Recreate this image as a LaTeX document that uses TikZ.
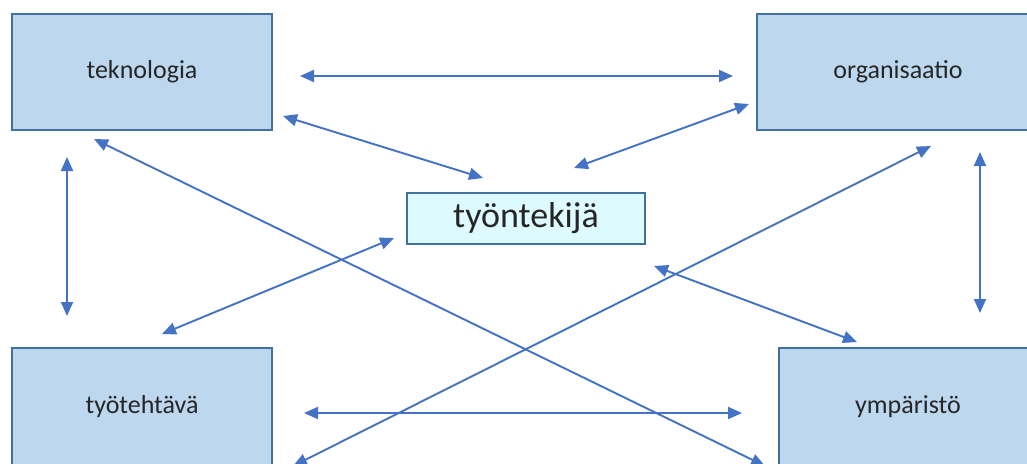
\documentclass[tikz,border=0pt]{standalone}
\usepackage{fontspec}
\setmainfont{Carlito}
\usetikzlibrary{arrows.meta}
\definecolor{boxfill}{HTML}{BDD7EE}
\definecolor{boxdraw}{HTML}{41719C}
\definecolor{centerfill}{HTML}{DDFAFF}
\definecolor{arrowc}{HTML}{4472C4}
\definecolor{txt}{HTML}{262626}
\tikzset{
  mainbox/.style={draw=boxdraw, fill=boxfill, line width=1.6pt, text=txt, font=\fontsize{26}{28}\selectfont},
  centerbox/.style={draw=boxdraw, fill=centerfill, line width=1.3pt, text=txt, font=\fontsize{36}{38}\selectfont},
  link/.style={draw=arrowc, line width=1.9pt, {Triangle[length=14pt,width=12pt]}-{Triangle[length=14pt,width=12pt]}}
}
\begin{document}
\begin{tikzpicture}[x=1pt,y=-1pt]
\useasboundingbox (0,0) rectangle (1027,463);
\fill[white] (0,0) rectangle (1027,463);
\clip (0,0) rectangle (1027,463);
% boxes
\node[mainbox, minimum width=260pt, minimum height=116pt, inner sep=0pt] (tek) at (142,72) {teknologia};
\node[mainbox, minimum width=282pt, minimum height=116pt, inner sep=0pt] (org) at (898,72) {organisaatio};
\node[mainbox, minimum width=260pt, minimum height=118pt, inner sep=0pt] (tyt) at (142,407) {työtehtävä};
\node[mainbox, minimum width=258pt, minimum height=118pt, inner sep=0pt] (ymp) at (908,407) {ympäristö};
\node[centerbox, minimum width=238pt, minimum height=51pt, inner sep=0pt] (tyo) at (526,218.5) {työntekijä};
% endpoints
\coordinate (a1) at (300,76);  \coordinate (a2) at (733,76);
\coordinate (b1) at (283,116); \coordinate (b2) at (483,178);
\coordinate (c1) at (749,104); \coordinate (c2) at (574,168);
\coordinate (d1) at (67,157);  \coordinate (d2) at (67,316);
\coordinate (e1) at (980,152); \coordinate (e2) at (980,313);
\coordinate (f1) at (94,139);  \coordinate (f2) at (765,466);
\coordinate (g1) at (931,146); \coordinate (g2) at (293,466);
\coordinate (h1) at (394,238); \coordinate (h2) at (162,334);
\coordinate (i1) at (654,266); \coordinate (i2) at (857,342);
\coordinate (j1) at (304,413); \coordinate (j2) at (742,413);
% connectors
\draw[link] (a1) -- (a2);
\draw[link] (b1) -- (b2);
\draw[link] (c1) -- (c2);
\draw[link] (d1) -- (d2);
\draw[link] (e1) -- (e2);
\draw[link] (f1) -- (f2);
\draw[link] (g1) -- (g2);
\draw[link] (h1) -- (h2);
\draw[link] (i1) -- (i2);
\draw[link] (j1) -- (j2);
\end{tikzpicture}
\end{document}
